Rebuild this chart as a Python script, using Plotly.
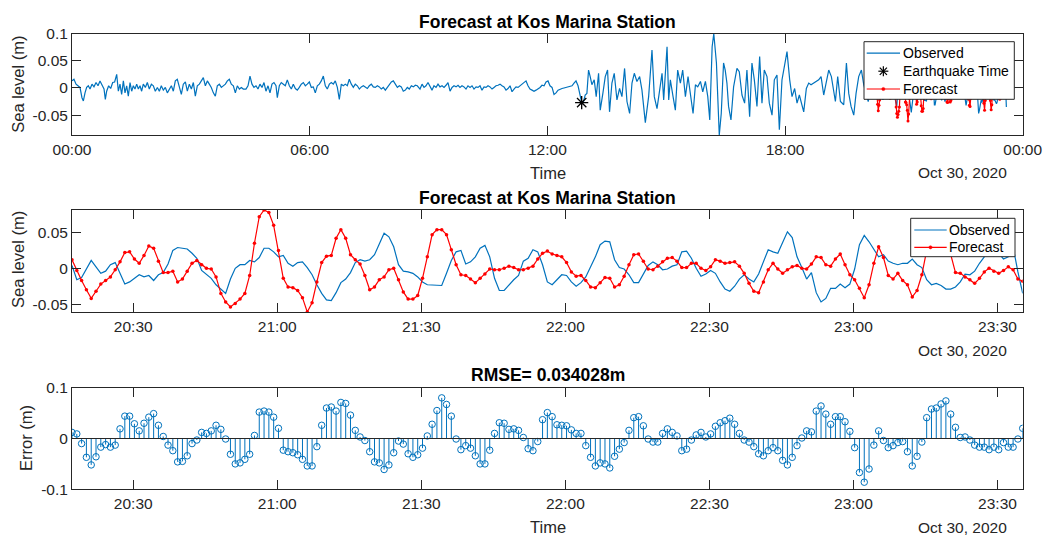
import plotly.graph_objects as go
import pandas as pd

# ---------------- data ----------------
day_start = "2020-10-30 00:00:00"
day_end = "2020-10-31 00:00:00"
fc_start = "2020-10-30 20:17:15"   # first sample of the forecast window (1-min sampling)

eq_minute = 772.0      # earthquake marker, minutes after midnight
eq_value = -0.027

# Observed sea level, 00:00 - 20:17 (minutes after midnight / value in m)
early_minutes = [
    0.0, 3.0, 6.1, 9.1, 12.1, 15.1, 17.2, 19.7, 22.2, 24.7,
    27.3, 30.3, 33.3, 36.4, 39.4, 42.4, 45.4, 48.5, 50.5, 52.5,
    55.5, 58.6, 61.6, 64.6, 67.7, 70.2, 72.7, 75.2, 77.8, 80.3,
    82.8, 85.3, 87.9, 90.4, 92.9, 95.4, 98.0, 100.5, 103.0, 105.5,
    108.0, 111.1, 114.1, 117.1, 120.2, 123.2, 126.2, 129.3, 132.3, 135.3,
    138.3, 141.4, 144.4, 147.4, 150.5, 153.5, 156.5, 159.5, 162.6, 165.6,
    168.6, 171.7, 174.7, 177.7, 180.8, 183.8, 186.8, 189.8, 192.9, 195.9,
    198.9, 202.0, 205.0, 208.0, 211.0, 214.1, 217.1, 220.1, 223.2, 226.2,
    229.2, 232.3, 235.3, 238.3, 241.3, 244.4, 247.4, 250.4, 253.5, 256.5,
    259.5,
    263.5, 266.6, 269.6, 272.6, 275.6, 278.7, 281.7, 284.7, 287.8, 290.8,
    293.8, 296.9, 299.9, 302.9, 305.9, 309.0, 311.0, 314.0, 317.0, 320.1,
    323.1, 326.1, 329.2, 332.2, 335.2, 338.3, 341.3, 344.3, 347.3, 350.4,
    353.4, 356.4, 359.5, 362.5, 365.5, 368.5, 371.6, 374.6, 377.6, 380.7,
    383.7, 386.7, 389.8, 392.8, 395.8, 398.8, 401.9, 404.9, 407.9, 411.0,
    414.0, 417.0, 420.0, 423.1, 426.1, 429.1, 432.2, 435.2, 438.2, 441.3,
    444.3, 447.3, 450.3, 453.4, 456.4, 459.4, 462.5, 465.5, 468.5, 471.5,
    474.6, 477.6, 480.6, 483.7, 486.7, 489.7, 492.8, 495.8, 498.8, 501.8,
    504.9, 507.9, 510.9, 514.0, 517.0, 520.0, 523.0,
    527.1, 530.2, 533.2, 536.2, 539.2, 542.3, 545.3, 548.3, 551.4, 554.4,
    557.4, 560.5, 563.5, 566.5, 569.5, 572.6, 575.6, 578.6, 581.7, 584.7,
    587.7, 590.7, 593.8, 596.8, 599.8, 602.9, 605.9, 608.9, 612.0, 615.0,
    618.0, 621.0, 624.1, 627.1, 630.1, 633.2, 636.2, 639.2, 642.2, 645.3,
    648.3, 651.3, 654.4, 657.4, 660.4, 663.5, 666.5, 669.5, 672.5, 675.6,
    678.6, 681.6, 684.7, 687.7, 690.7, 693.7, 696.8, 699.8, 702.8, 705.9,
    708.9, 711.9, 715.0, 718.0, 721.0, 724.0, 727.1, 730.1, 733.1, 736.2,
    739.2, 742.2, 745.2, 748.3, 751.3, 754.3, 757.4, 760.4, 763.4, 766.5,
    769.5,
    772.0, 774.8, 777.3, 779.9, 782.4, 784.9, 787.5, 791.0, 794.0, 797.6,
    800.1, 804.1, 807.7, 811.2, 814.2, 817.8, 821.3, 825.4, 829.4, 833.0,
    837.0, 840.6, 844.6, 848.2, 851.7, 855.7, 859.8, 863.3, 868.4, 873.4,
    878.5, 882.0, 886.1, 890.1, 893.7, 896.2, 901.3, 903.8, 906.3, 910.4,
    913.9, 917.4, 921.5, 925.0, 929.1, 933.1, 936.7, 940.7, 944.3, 947.8,
    951.9, 955.4, 959.4, 963.0, 966.0, 969.6, 972.1, 976.1, 980.4, 983.4,
    986.9, 989.4, 992.0, 994.5, 998.1, 1002.1, 1007.2, 1010.7, 1014.8, 1018.8,
    1022.3, 1026.4, 1029.9, 1033.5, 1037.5, 1041.6, 1045.1, 1048.6, 1052.7, 1056.2,
    1060.3, 1063.8, 1067.8, 1071.4, 1075.4, 1080.5, 1083.0, 1087.1, 1090.6, 1094.6,
    1098.2, 1101.7, 1105.7, 1108.3, 1112.3, 1115.9, 1119.4, 1123.5, 1127.5, 1131.0,
    1134.6, 1138.6, 1142.2, 1146.2, 1150.2, 1153.8, 1156.3, 1159.8, 1163.9, 1168.9,
    1173.0, 1176.5, 1180.0, 1184.1, 1187.6, 1191.6, 1195.7, 1199.2, 1206.0, 1212.0,
]
early_values = [
    0.013, 0.016, 0.007, 0.004, 0.001, -0.018, -0.024, -0.009, 0.001, 0.004,
    -0.002, 0.007, 0.002, 0.010, 0.004, 0.013, 0.004, -0.002, -0.021, -0.006,
    0.004, -0.001, 0.010, 0.011, 0.025, -0.006, 0.007, -0.012, 0.013, -0.009,
    0.004, -0.015, 0.010, -0.006, 0.004, -0.002, 0.007, -0.002, 0.004, -0.006,
    0.007, 0.001, 0.010, -0.002, 0.007, 0.004, -0.006, 0.001, -0.006, 0.004,
    -0.004, 0.001, -0.009, -0.002, 0.004, -0.006, 0.013, 0.016, 0.004, -0.012,
    0.007, 0.011, -0.006, 0.007, -0.002, 0.010, -0.015, 0.004, 0.007, 0.013,
    0.019, 0.004, 0.013, 0.007, 0.001, -0.009, -0.015, 0.004, 0.007, 0.001,
    0.004, 0.007, 0.013, 0.016, 0.007, 0.004, -0.009, 0.004, -0.002, 0.001,
    -0.002,
    -0.002, 0.004, 0.022, 0.007, 0.001, 0.004, -0.002, 0.007, 0.001, 0.010,
    -0.006, 0.004, -0.009, 0.007, 0.010, 0.004, -0.018, 0.004, 0.010, 0.007,
    0.004, 0.015, 0.004, -0.002, 0.007, -0.001, -0.004, 0.001, 0.007, 0.010,
    0.004, 0.007, 0.011, 0.001, 0.002, -0.009, 0.004, 0.007, 0.013, 0.022,
    0.004, -0.002, 0.007, 0.010, 0.007, 0.013, 0.001, -0.021, 0.007, 0.004,
    0.007, 0.004, 0.016, 0.007, 0.001, 0.007, 0.004, -0.002, 0.002, 0.004,
    0.001, -0.001, 0.004, 0.007, 0.002, 0.001, 0.004, 0.002, -0.002, 0.001,
    -0.004, 0.001, 0.007, 0.011, 0.013, 0.007, 0.001, 0.004, 0.002, -0.006,
    -0.004, 0.001, -0.002, 0.004, 0.002, 0.005, 0.004,
    -0.002, 0.007, 0.001, 0.004, 0.010, 0.004, -0.004, 0.004, 0.001, 0.007,
    0.002, 0.004, 0.001, 0.005, 0.010, -0.006, 0.001, 0.004, 0.002, 0.005,
    0.001, 0.004, 0.002, -0.002, 0.004, 0.001, 0.004, -0.002, 0.002, 0.001,
    0.004, -0.004, 0.002, 0.001, 0.004, 0.002, -0.002, 0.001, 0.004, 0.005,
    0.007, 0.004, 0.002, -0.004, -0.001, 0.004, -0.007, -0.002, 0.002, 0.001,
    0.004, 0.007, 0.010, 0.013, 0.004, -0.002, -0.004, -0.006, -0.004, -0.002,
    0.001, 0.005, 0.004, 0.011, 0.013, 0.004, 0.001, -0.012, -0.009, -0.004,
    -0.002, -0.001, 0.000, 0.001, 0.002, 0.004, 0.004, 0.009, 0.013, 0.004,
    -0.015,
    -0.027, -0.025, -0.013, -0.010, 0.033, 0.021, 0.006, 0.015, -0.016, 0.027,
    -0.041, -0.010, 0.021, 0.033, -0.044, 0.009, 0.027, -0.022, -0.001, -0.016,
    0.036, -0.025, -0.047, 0.009, 0.027, 0.012, 0.021, -0.004, -0.064, -0.016,
    0.070, -0.016, -0.038, -0.004, 0.027, -0.022, 0.076, -0.022, 0.015, -0.016,
    -0.041, 0.033, 0.009, 0.033, -0.016, 0.021, -0.007, -0.047, 0.006, 0.002,
    0.012, -0.007, 0.012, -0.016, -0.059, 0.076, 0.100, 0.046, -0.087, -0.047,
    0.046, 0.033, 0.009, -0.034, -0.059, 0.002, 0.036, 0.030, -0.013, -0.028,
    0.033, -0.053, 0.046, 0.015, -0.034, 0.058, -0.028, 0.033, 0.021, -0.028,
    -0.050, 0.015, 0.024, -0.077, 0.015, 0.046, 0.067, 0.015, -0.016, -0.001,
    -0.028, -0.013, -0.034, -0.044, -0.001, 0.009, 0.006, 0.009, 0.012, 0.015,
    0.021, -0.013, 0.009, 0.033, 0.021, -0.010, -0.025, 0.021, -0.025, -0.031,
    0.046, -0.010, -0.034, -0.050, -0.010, 0.021, 0.033, 0.006, -0.025, 0.010,
]

# Forecast window: 199 one-minute samples from 20:17:15
observed = [
    0.004, -0.016, -0.013, 0.000, 0.011, 0.002, -0.007, -0.004, 0.005, 0.008,
    -0.006, -0.022, -0.019, -0.014, -0.009, -0.012, -0.010, -0.017, -0.009, -0.006,
    0.006, 0.025, 0.029, 0.028, 0.027, 0.021, 0.014, -0.003, -0.008, -0.014,
    -0.023, -0.029, -0.035, -0.015, 0.000, 0.005, 0.005, 0.011, 0.009, 0.015,
    0.028, 0.028, 0.023, 0.016, 0.018, 0.007, 0.003, 0.008, 0.009, 0.001,
    -0.009, -0.023, -0.035, -0.044, -0.045, -0.034, -0.020, -0.015, -0.006, 0.008,
    0.012, 0.010, 0.012, 0.019, 0.035, 0.049, 0.044, 0.030, 0.005, -0.004,
    -0.005, -0.007, -0.012, -0.019, -0.023, -0.023, -0.023, -0.024, -0.007, 0.011,
    0.023, 0.025, 0.006, 0.009, 0.016, 0.028, 0.032, 0.016, -0.014, -0.031,
    -0.031, -0.023, -0.016, -0.010, 0.010, 0.014, 0.026, 0.023, 0.005, -0.019,
    -0.023, -0.016, -0.009, -0.010, -0.019, -0.025, -0.020, -0.012, 0.002, 0.016,
    0.033, 0.038, 0.037, 0.012, 0.001, -0.001, -0.009, -0.020, -0.020, -0.009,
    0.004, 0.009, 0.005, -0.002, -0.001, 0.003, 0.005, 0.023, 0.024, 0.014,
    0.000, -0.011, -0.008, -0.003, -0.007, -0.019, -0.029, -0.032, -0.025, -0.015,
    -0.009, -0.015, -0.019, -0.008, 0.010, 0.026, 0.023, 0.021, 0.036, 0.051,
    0.043, 0.016, 0.001, -0.015, -0.006, -0.034, -0.047, -0.042, -0.028, -0.028,
    -0.022, -0.027, -0.022, -0.001, 0.033, 0.046, 0.037, 0.026, 0.016, 0.019,
    0.010, 0.007, 0.005, 0.007, 0.007, 0.013, 0.005, 0.001, -0.016, -0.023,
    -0.021, -0.024, -0.029, -0.029, -0.026, -0.019, -0.008, -0.009, -0.004, 0.007,
    0.016, 0.023, 0.017, 0.021, 0.013, 0.016, 0.030, -0.005, -0.035,
]
forecast = [
    0.012, -0.003, -0.017, -0.030, -0.042, -0.032, -0.022, -0.017, -0.012, -0.002,
    0.009, 0.022, 0.023, 0.013, 0.007, 0.018, 0.031, 0.028, 0.010, -0.006,
    -0.006, -0.004, -0.019, -0.015, -0.004, 0.007, 0.011, 0.005, 0.000, -0.001,
    -0.012, -0.035, -0.047, -0.054, -0.049, -0.043, -0.035, -0.010, 0.035, 0.072,
    0.0814, 0.078, 0.060, 0.025, -0.014, -0.026, -0.027, -0.031, -0.041, -0.061,
    -0.048, -0.019, 0.008, 0.017, 0.018, 0.042, 0.054, 0.042, 0.019, 0.012,
    0.006, -0.010, -0.030, -0.026, -0.016, -0.012, -0.002, 0.000, -0.016, -0.033,
    -0.043, -0.043, -0.038, -0.014, 0.016, 0.047, 0.054, 0.054, 0.047, 0.026,
    0.005, -0.009, -0.010, -0.015, -0.020, -0.014, -0.008, -0.001, -0.002, -0.002,
    0.000, 0.003, 0.001, -0.002, -0.002, 0.000, 0.003, 0.013, 0.021, 0.024,
    0.020, 0.018, 0.016, 0.008, -0.005, -0.011, -0.010, -0.017, -0.026, -0.027,
    -0.020, -0.013, -0.014, -0.026, -0.023, -0.011, 0.005, 0.019, 0.020, 0.010,
    -0.001, -0.002, 0.003, 0.009, 0.014, 0.015, 0.010, 0.001, 0.001, 0.007,
    0.007, 0.000, -0.003, 0.002, 0.012, 0.010, 0.007, 0.008, 0.009, 0.003,
    -0.007, -0.021, -0.032, -0.034, -0.019, -0.002, 0.007, -0.001, -0.007, -0.002,
    0.002, 0.004, 0.000, -0.001, 0.006, 0.016, 0.015, 0.005, 0.003, 0.013,
    0.020, 0.005, -0.009, -0.016, -0.028, -0.041, -0.023, 0.007, 0.030, 0.015,
    -0.010, -0.015, -0.007, -0.017, -0.023, -0.040, -0.031, -0.009, 0.025, 0.035,
    0.039, 0.044, 0.045, 0.019, -0.006, -0.007, -0.012, -0.016, -0.021, -0.014,
    -0.005, 0.000, -0.004, -0.007, -0.003, 0.002, -0.002, -0.015, -0.018,
]
error = [
    0.012, 0.009, -0.010, -0.037, -0.052, -0.036, -0.017, -0.012, -0.017, -0.013,
    0.019, 0.044, 0.044, 0.029, 0.015, 0.030, 0.042, 0.049, 0.026, 0.004,
    -0.013, -0.024, -0.046, -0.045, -0.034, -0.010, -0.003, 0.012, 0.010, 0.015,
    0.026, 0.018, -0.001, -0.031, -0.050, -0.048, -0.041, -0.031, 0.006, 0.052,
    0.054, 0.052, 0.042, 0.020, -0.023, -0.026, -0.028, -0.032, -0.041, -0.054,
    -0.054, -0.016, 0.026, 0.060, 0.062, 0.054, 0.071, 0.069, 0.046, 0.016,
    0.003, -0.004, -0.026, -0.046, -0.048, -0.061, -0.052, -0.028, -0.005, -0.011,
    -0.030, -0.037, -0.032, -0.019, 0.005, 0.028, 0.055, 0.080, 0.067, 0.044,
    -0.001, -0.022, -0.014, -0.019, -0.034, -0.050, -0.050, -0.023, 0.010, 0.031,
    0.030, 0.018, 0.019, 0.016, 0.002, -0.020, -0.024, -0.006, 0.037, 0.051,
    0.043, 0.027, 0.026, 0.025, 0.017, 0.010, 0.010, -0.014, -0.037, -0.054,
    -0.048, -0.050, -0.058, -0.035, -0.021, -0.008, 0.016, 0.041, 0.043, 0.025,
    -0.001, -0.007, -0.007, 0.010, 0.019, 0.012, 0.005, -0.024, -0.021, -0.003,
    0.007, 0.012, 0.003, 0.009, 0.024, 0.031, 0.035, 0.040, 0.028, 0.010,
    -0.003, -0.007, -0.016, -0.030, -0.034, -0.024, -0.018, -0.024, -0.043, -0.052,
    -0.037, -0.014, 0.001, 0.015, 0.013, 0.054, 0.064, 0.048, 0.028, 0.043,
    0.043, 0.033, 0.014, -0.018, -0.067, -0.086, -0.060, -0.013, 0.015, -0.004,
    -0.018, -0.014, -0.008, -0.006, -0.026, -0.054, -0.035, -0.007, 0.041, 0.058,
    0.060, 0.068, 0.074, 0.048, 0.022, 0.002, 0.003, -0.003, -0.013, -0.017,
    -0.017, -0.022, -0.017, -0.022, -0.008, -0.017, -0.017, -0.001, 0.020,
]

top_y_ticks = [-0.05, 0, 0.05, 0.1]
top_y_labels = ["-0.05", "0", "0.05", "0.1"]
mid_y_ticks = [-0.05, 0, 0.05]
mid_y_labels = ["-0.05", "0", "0.05"]
err_y_ticks = [-0.1, 0, 0.1]
err_y_labels = ["-0.1", "0", "0.1"]
top_x_ticks = ["2020-10-30 00:00", "2020-10-30 06:00", "2020-10-30 12:00",
               "2020-10-30 18:00", "2020-10-31 00:00"]
top_x_labels = ["00:00", "06:00", "12:00", "18:00", "00:00"]
zoom_x_ticks = ["2020-10-30 20:30", "2020-10-30 21:00", "2020-10-30 21:30",
                "2020-10-30 22:00", "2020-10-30 22:30", "2020-10-30 23:00",
                "2020-10-30 23:30"]
zoom_x_labels = ["20:30", "21:00", "21:30", "22:00", "22:30", "23:00", "23:30"]
date_label = "Oct 30, 2020"
title_main = "Forecast at Kos Marina Station"
title_rmse = "RMSE= 0.034028m"
legend1_labels = ["Observed", "Earthquake Time", "Forecast"]
legend2_labels = ["Observed", "Forecast"]

assert len(early_minutes) == len(early_values)
assert len(observed) == len(forecast) == len(error)

# ---------------- helpers ----------------
def stamp(base, minutes):
    return [(pd.Timestamp(base) + pd.Timedelta(minutes=m)).strftime("%Y-%m-%d %H:%M:%S") for m in minutes]

fc_times = stamp(fc_start, range(len(forecast)))
early_times = stamp(day_start, early_minutes)
eq_time = stamp(day_start, [eq_minute])

W, H = 1043, 536
def px(x):
    return x / W
def py(y):
    return 1 - y / H

BLUE = "#0072BD"
RED = "#FF0000"
AX = "#262626"
FONT = "Liberation Sans"

fig = go.Figure()

# Panel 1
fig.add_trace(go.Scatter(x=early_times + fc_times, y=early_values + observed, mode="lines",
                         line=dict(color=BLUE, width=1.2), name="Observed",
                         xaxis="x", yaxis="y", showlegend=False))
fig.add_trace(go.Scatter(x=eq_time, y=[eq_value], mode="markers",
                         marker=dict(symbol="asterisk-open", size=11, color="black",
                                     line=dict(color="black", width=1.3)),
                         name="Earthquake Time", xaxis="x", yaxis="y", showlegend=False))
fig.add_trace(go.Scatter(x=fc_times, y=forecast, mode="lines+markers",
                         line=dict(color=RED, width=1.2), marker=dict(size=3, color=RED),
                         name="Forecast", xaxis="x", yaxis="y", showlegend=False))

# Panel 2
fig.add_trace(go.Scatter(x=fc_times, y=observed, mode="lines",
                         line=dict(color=BLUE, width=1.2), name="Observed",
                         xaxis="x2", yaxis="y2", showlegend=False))
fig.add_trace(go.Scatter(x=fc_times, y=forecast, mode="lines+markers",
                         line=dict(color=RED, width=1.2), marker=dict(size=3.5, color=RED),
                         name="Forecast", xaxis="x2", yaxis="y2", showlegend=False))

# Panel 3 (stem)
stem_x, stem_y = [], []
for t, e in zip(fc_times, error):
    stem_x += [t, t, None]
    stem_y += [0, e, None]
fig.add_trace(go.Scatter(x=stem_x, y=stem_y, mode="lines", line=dict(color=BLUE, width=1),
                         showlegend=False, xaxis="x3", yaxis="y3", hoverinfo="skip"))
fig.add_trace(go.Scatter(x=fc_times, y=error, mode="markers",
                         marker=dict(symbol="circle-open", size=6.5, color=BLUE,
                                     line=dict(color=BLUE, width=1)),
                         showlegend=False, xaxis="x3", yaxis="y3"))

xdom = [px(72), px(1022.7)]
axis_common = dict(showline=True, linecolor=AX, linewidth=1, mirror="allticks",
                   ticks="inside", ticklen=9, tickwidth=1, tickcolor=AX,
                   showgrid=False, zeroline=False, automargin=False,
                   tickfont=dict(family=FONT, size=15.5, color=AX))

fig.update_layout(
    width=W, height=H, margin=dict(l=0, r=0, t=0, b=0, pad=0, autoexpand=False),
    paper_bgcolor="white", plot_bgcolor="white", showlegend=False,
    xaxis=dict(domain=xdom, anchor="y", type="date", range=[day_start, day_end],
               tickmode="array", tickvals=top_x_ticks, ticktext=top_x_labels, **axis_common),
    yaxis=dict(domain=[py(135), py(33.7)], anchor="x", range=[-0.0867, 0.1],
               tickmode="array", tickvals=top_y_ticks, ticktext=top_y_labels, **axis_common),
    xaxis2=dict(domain=xdom, anchor="y2", type="date", range=[fc_times[0], fc_times[-1]],
                tickmode="array", tickvals=zoom_x_ticks, ticktext=zoom_x_labels, **axis_common),
    yaxis2=dict(domain=[py(312), py(210)], anchor="x2", range=[-0.061, 0.0814],
                tickmode="array", tickvals=mid_y_ticks, ticktext=mid_y_labels, **axis_common),
    xaxis3=dict(domain=xdom, anchor="y3", type="date", range=[fc_times[0], fc_times[-1]],
                tickmode="array", tickvals=zoom_x_ticks, ticktext=zoom_x_labels, **axis_common),
    yaxis3=dict(domain=[py(489.3), py(387.7)], anchor="x3", range=[-0.1, 0.1],
                tickmode="array", tickvals=err_y_ticks, ticktext=err_y_labels, **axis_common),
)

shapes = [dict(type="line", xref="x3 domain", yref="y3", x0=0, x1=1, y0=0, y1=0,
               line=dict(color=AX, width=1))]
ann = []

# ---- legends (MATLAB-style boxes drawn in paper space) ----
def legend_box(x0, x1, y0, y1, rows, line_x0, line_x1, text_x):
    shapes.append(dict(type="rect", xref="paper", yref="paper", layer="above",
                       x0=px(x0), x1=px(x1), y0=py(y1), y1=py(y0),
                       fillcolor="white", line=dict(color=AX, width=1)))
    cx = (line_x0 + line_x1) / 2
    for label, kind, yc in rows:
        if kind in ("line", "linedot"):
            col = BLUE if kind == "line" else RED
            shapes.append(dict(type="line", xref="paper", yref="paper", layer="above",
                               x0=px(line_x0), x1=px(line_x1), y0=py(yc), y1=py(yc),
                               line=dict(color=col, width=1.2)))
            if kind == "linedot":
                shapes.append(dict(type="circle", xref="paper", yref="paper", layer="above",
                                   x0=px(cx - 1.6), x1=px(cx + 1.6), y0=py(yc + 1.6), y1=py(yc - 1.6),
                                   fillcolor=RED, line=dict(color=RED, width=0.5)))
        else:  # asterisk
            r = 5.0
            d = r * 0.72
            for dx, dy in [(r, 0), (0, r), (d, d), (d, -d)]:
                shapes.append(dict(type="line", xref="paper", yref="paper", layer="above",
                                   x0=px(cx - dx), x1=px(cx + dx), y0=py(yc - dy), y1=py(yc + dy),
                                   line=dict(color="black", width=1.2)))
        ann.append(dict(x=px(text_x), y=py(yc), xref="paper", yref="paper", text=label,
                        showarrow=False, xanchor="left", yanchor="middle", borderpad=0,
                        font=dict(family=FONT, size=14, color="black")))

legend_box(864, 1014.3, 41.7, 99.3,
           [(legend1_labels[0], "line", 53.2), (legend1_labels[1], "asterisk", 71.2),
            (legend1_labels[2], "linedot", 89.0)],
           866.7, 900, 901.5)
legend_box(910.7, 1015, 218.3, 256.7,
           [(legend2_labels[0], "line", 230.0), (legend2_labels[1], "linedot", 247.3)],
           914.3, 946.7, 948.3)

for ytitle, text in [(21.5, title_main), (198.3, title_main), (375, title_rmse)]:
    ann.append(dict(x=px(547.5), y=py(ytitle), xref="paper", yref="paper", text="<b>" + text + "</b>",
                    showarrow=False, xanchor="center", yanchor="middle",
                    font=dict(family=FONT, size=17.5, color="black")))
for yt in [173, 527]:
    ann.append(dict(x=px(547.5), y=py(yt), xref="paper", yref="paper", text="Time",
                    showarrow=False, xanchor="center", yanchor="middle",
                    font=dict(family=FONT, size=16.5, color=AX)))
for yt in [173, 350, 527]:
    ann.append(dict(x=px(1009), y=py(yt), xref="paper", yref="paper", text=date_label,
                    showarrow=False, xanchor="right", yanchor="middle",
                    font=dict(family=FONT, size=15.5, color=AX)))
for xt, yt, text in [(18.5, 84.3, "Sea level (m)"), (18.5, 259.5, "Sea level (m)"), (25.5, 438.5, "Error (m)")]:
    ann.append(dict(x=px(xt), y=py(yt), xref="paper", yref="paper", text=text, textangle=-90,
                    showarrow=False, xanchor="center", yanchor="middle",
                    font=dict(family=FONT, size=16.5, color=AX)))
fig.update_layout(annotations=ann, shapes=shapes)

fig.write_html("out.html")
